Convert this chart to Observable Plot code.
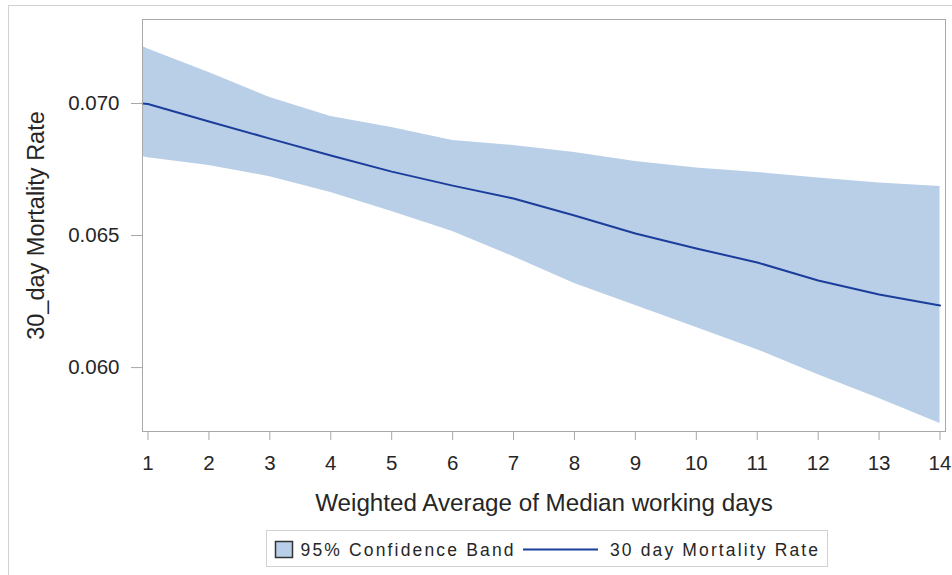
<!DOCTYPE html>
<html>
<head>
<meta charset="utf-8">
<script src="https://cdn.jsdelivr.net/npm/d3@7"></script>
<script src="https://cdn.jsdelivr.net/npm/@observablehq/plot@0.6"></script>
<style>
  body { margin: 0; background: #fff; font-family: "Liberation Sans", Arial, sans-serif; }
  #wrap { position: relative; width: 952px; height: 575px; overflow: hidden; }
  #border { position: absolute; left: 8px; top: 5px; width: 1000px; height: 700px; border: 1px solid #d2d2d2; box-sizing: border-box; }
  #chart { position: absolute; left: 0; top: 0; }
  #legend { position: absolute; left: 0; top: 520px; }
</style>
</head>
<body>
<div id="wrap">
  <div id="border"></div>
  <div id="chart"></div>
  <div id="legend"></div>
</div>
<script>
// ---- data ----
const days = [0.91, 1, 2, 3, 4, 5, 6, 7, 8, 9, 10, 11, 12, 13, 14];
const mortality = [0.0700, 0.06998, 0.06932, 0.06867, 0.06803, 0.06742, 0.06689, 0.06640, 0.06576, 0.06508, 0.06451, 0.06398, 0.06330, 0.06277, 0.06235];
const lowerCL = [0.06799, 0.06795, 0.06765, 0.06723, 0.06663, 0.06591, 0.06515, 0.06420, 0.06318, 0.06235, 0.06152, 0.06068, 0.05973, 0.05883, 0.05788];
const upperCL = [0.07216, 0.07206, 0.07117, 0.07023, 0.06951, 0.06909, 0.06860, 0.06841, 0.06814, 0.06780, 0.06756, 0.06739, 0.06718, 0.06699, 0.06686];
const xTicks = [1, 2, 3, 4, 5, 6, 7, 8, 9, 10, 11, 12, 13, 14];
const yTicks = [0.060, 0.065, 0.070];
const xLabel = "Weighted Average of Median working days";
const yLabel = "30_day Mortality Rate";
const legendBand = "95% Confidence Band";
const legendLine = "30 day Mortality Rate";

const bandColor = "#b9cfe7";
const lineColor = "#1b3d9b";
const axisGray = "#a8a8a8";
const textColor = "#262626";

const rows = days.map((d, i) => ({ x: d, rate: mortality[i], lo: lowerCL[i], hi: upperCL[i] }));

const chart = Plot.plot({
  width: 952,
  height: 520,
  marginLeft: 142,
  marginRight: 7,
  marginTop: 19,
  marginBottom: 89,
  style: { fontFamily: "'Liberation Sans', Arial, sans-serif", background: "transparent", color: textColor },
  x: { domain: [0.91, 14.09] },
  y: { domain: [0.05758, 0.07318] },
  marks: [
    Plot.areaY(rows, { x: "x", y1: "lo", y2: "hi", fill: bandColor }),
    Plot.line(rows, { x: "x", y: "rate", stroke: lineColor, strokeWidth: 2 }),
    Plot.frame({ stroke: axisGray }),
    Plot.axisX(xTicks, { tickSize: 9, tickPadding: 15, fontSize: 20.5, stroke: axisGray, fill: textColor, label: null }),
    Plot.axisY(yTicks, { tickSize: 11, tickPadding: 12, fontSize: 20.5, stroke: axisGray, fill: textColor, tickFormat: d3.format(".3f"), label: null }),
    Plot.text([xLabel], { frameAnchor: "bottom", dy: 72, fontSize: 24.2, fill: textColor, lineAnchor: "middle" }),
    Plot.text([yLabel], { frameAnchor: "left", dx: -106, rotate: -90, textAnchor: "middle", fontSize: 23.5, fill: textColor, lineAnchor: "middle" })
  ]
});
document.getElementById("chart").appendChild(chart);

// ---- legend below the chart ----
const lg = d3.select("#legend").append("svg").attr("width", 952).attr("height", 55)
  .style("font-family", "'Liberation Sans', Arial, sans-serif");
lg.append("rect").attr("x", 266.5).attr("y", 10.5).attr("width", 561).attr("height", 36)
  .attr("fill", "#fff").attr("stroke", "#d2d2d2");
lg.append("rect").attr("x", 275.5).attr("y", 21.5).attr("width", 17).attr("height", 16)
  .attr("fill", bandColor).attr("stroke", "#333").attr("stroke-width", 1.5);
lg.append("text").attr("x", 300.5).attr("y", 29.5).attr("dy", "0.35em")
  .attr("font-size", 17.5).attr("font-weight", 500).attr("fill", textColor)
  .attr("textLength", 213).attr("lengthAdjust", "spacing").text(legendBand);
lg.append("line").attr("x1", 523).attr("x2", 598).attr("y1", 29.5).attr("y2", 29.5)
  .attr("stroke", lineColor).attr("stroke-width", 2);
lg.append("text").attr("x", 610).attr("y", 29.5).attr("dy", "0.35em")
  .attr("font-size", 17.5).attr("font-weight", 500).attr("fill", textColor)
  .attr("textLength", 208).attr("lengthAdjust", "spacing").text(legendLine);
</script>
</body>
</html>
